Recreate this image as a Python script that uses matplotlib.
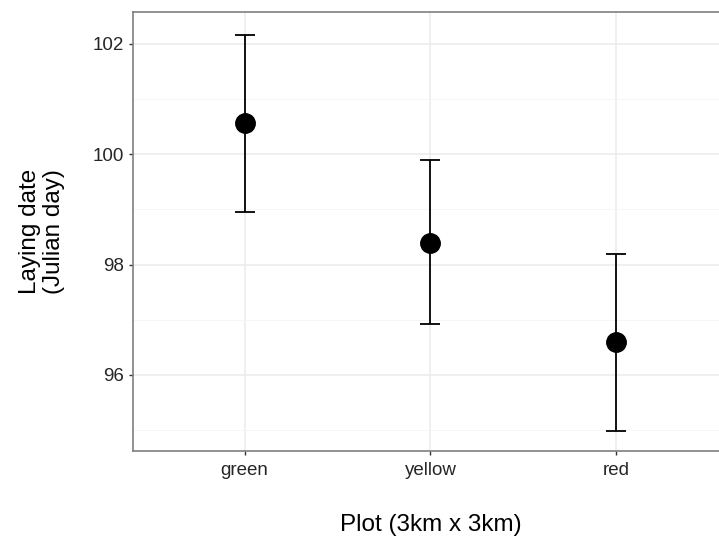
# Laying date by plot colour, mean with error bars
import matplotlib.pyplot as plt

plt.rcParams["font.family"] = ["Liberation Sans", "DejaVu Sans"]

# Data
plots = ["green", "yellow", "red"]
means = [100.57, 98.39, 96.60]
lower = [98.96, 96.93, 94.98]
upper = [102.16, 99.89, 98.20]

x = list(range(1, len(plots) + 1))
err_low = [m - l for m, l in zip(means, lower)]
err_high = [u - m for m, u in zip(means, upper)]

fig = plt.figure(figsize=(7.19, 5.36), dpi=100)
ax = fig.add_axes([133 / 719, 85 / 536, 595 / 719, 439 / 536])

# gridlines like theme_bw
ax.set_axisbelow(True)
ax.grid(True, which="major", color="#ebebeb", linewidth=1.1)
ax.set_yticks([95, 97, 99, 101], minor=True)
ax.grid(True, which="minor", axis="y", color="#f5f5f5", linewidth=0.6)
ax.tick_params(which="minor", left=False)

ax.errorbar(x, means, yerr=[err_low, err_high], fmt="o", color="black",
            markersize=14, elinewidth=1.3, capsize=7.5, capthick=1.3)

ax.set_xlim(0.4, 3.6)
ax.set_ylim(94.62, 102.58)
ax.set_xticks(x)
ax.set_xticklabels(plots)
ax.set_yticks([96, 98, 100, 102])

ax.tick_params(axis="both", colors="#333333", labelsize=13.5, length=3, width=1,
               labelcolor="#262626")
ax.tick_params(axis="x", pad=5)

for s in ax.spines.values():
    s.set_color("#7f7f7f")
    s.set_linewidth(1.2)

ax.set_xlabel("Plot (3km x 3km)", fontsize=17.5, labelpad=25)
ax.set_ylabel("Laying date\n(Julian day)", fontsize=17.5, labelpad=20, linespacing=1.1)

plt.savefig("out.png", dpi=100)
